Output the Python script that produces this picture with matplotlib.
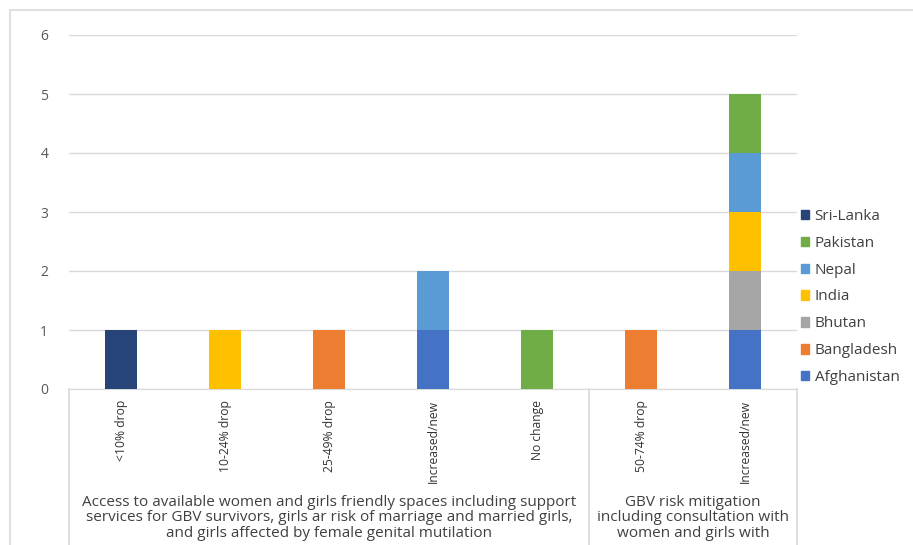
import numpy as np
import matplotlib.pyplot as plt
import matplotlib.patches as mpatches
from matplotlib.lines import Line2D

plt.rcParams['font.family'] = ['Open Sans', 'DejaVu Sans']

# categories (two groups on the x axis)
categories = ['<10% drop', '10-24% drop', '25-49% drop', 'Increased/new', 'No change',
              '50-74% drop', 'Increased/new']
group_labels = [
    'Access to available women and girls friendly spaces including support\n'
    'services for GBV survivors, girls ar risk of marriage and married girls,\n'
    'and girls affected by female genital mutilation',
    'GBV risk mitigation\nincluding consultation with\nwomen and girls with',
]
group_sizes = [5, 2]

# series (stack order bottom -> top)
countries = ['Afghanistan', 'Bangladesh', 'Bhutan', 'India', 'Nepal', 'Pakistan', 'Sri-Lanka']
afghanistan = [0, 0, 0, 1, 0, 0, 1]
bangladesh  = [0, 0, 1, 0, 0, 1, 0]
bhutan      = [0, 0, 0, 0, 0, 0, 1]
india       = [0, 1, 0, 0, 0, 0, 1]
nepal       = [0, 0, 0, 1, 0, 0, 1]
pakistan    = [0, 0, 0, 0, 1, 0, 1]
sri_lanka   = [1, 0, 0, 0, 0, 0, 0]
series = [afghanistan, bangladesh, bhutan, india, nepal, pakistan, sri_lanka]
colors = ['#4472C4', '#ED7D31', '#A5A5A5', '#FFC000', '#5B9BD5', '#70AD47', '#264478']

W, H = 913, 545
fig = plt.figure(figsize=(W / 100, H / 100), dpi=100)

# chart frame
fig.patches.append(mpatches.Rectangle((10 / W, -0.1), 1.0, (H - 10) / H + 0.1,
                                      transform=fig.transFigure, fill=False,
                                      edgecolor='#D9D9D9', linewidth=1.2))

x0, x1, y0, y1 = 69, 797, 389, 35
ax = fig.add_axes([x0 / W, (H - y0) / H, (x1 - x0) / W, (y0 - y1) / H])

x = np.arange(len(categories))
bottom = np.zeros(len(categories))
for name, vals, c in zip(countries, series, colors):
    ax.bar(x, vals, width=0.31, bottom=bottom, color=c, label=name, zorder=3)
    bottom += np.array(vals)

ax.set_xlim(-0.5, len(categories) - 0.5)
ax.set_ylim(0, 6)
ax.set_yticks(range(7))
ax.tick_params(axis='y', length=0, pad=15, labelsize=10, labelcolor='#595959')
ax.grid(axis='y', color='#D9D9D9', linewidth=1, zorder=0)
for s in ['top', 'right', 'left']:
    ax.spines[s].set_visible(False)
ax.spines['bottom'].set_color('#D9D9D9')

ax.set_xticks(x)
ax.set_xticklabels(categories, rotation=90, va='top', ha='center')
ax.tick_params(axis='x', length=0, pad=8, labelsize=8.7, labelcolor='#333333')

# group separators and labels below the axis
bounds = [x0]
step = (x1 - x0) / len(categories)
pos = 0
for n in group_sizes:
    pos += n
    bounds.append(x0 + pos * step)
for b in bounds:
    fig.add_artist(Line2D([b / W, b / W], [(H - y0) / H, 0], transform=fig.transFigure,
                          color='#D9D9D9', linewidth=1.2))
for i, lab in enumerate(group_labels):
    cx = (bounds[i] + bounds[i + 1]) / 2
    fig.text(cx / W, (H - 495) / H, lab, ha='center', va='top', fontsize=11,
             color='#404040', linespacing=1.03)

# legend (reversed order)
handles = [mpatches.Patch(color=c, label=n) for n, c in zip(countries, colors)][::-1]
fig.legend(handles=handles, loc='center left', bbox_to_anchor=(787 / W, (H - 297) / H),
           frameon=False, fontsize=11, handlelength=0.55, handleheight=0.55,
           handletextpad=0.35, labelspacing=0.78, labelcolor='#404040')

fig.savefig('out.png', dpi=100)
